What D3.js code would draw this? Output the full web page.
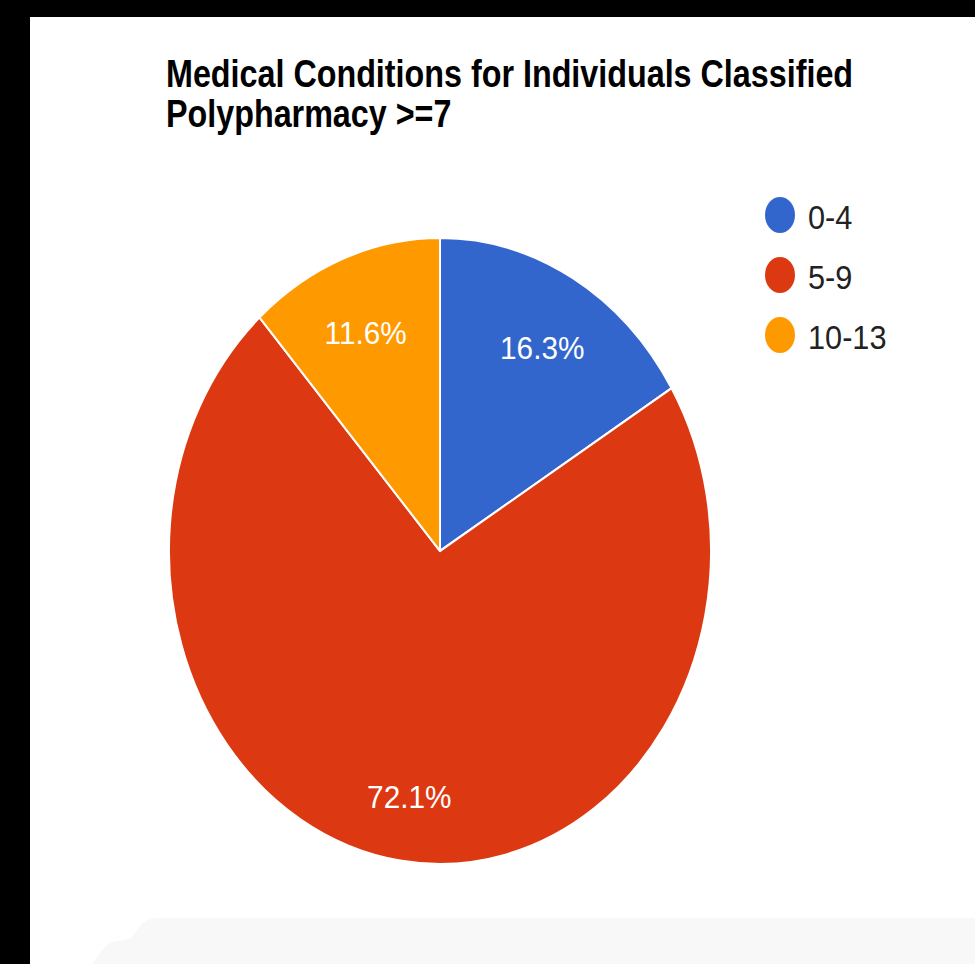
<!DOCTYPE html>
<html>
<head>
<meta charset="utf-8">
<script src="https://cdn.jsdelivr.net/npm/d3@7"></script>
<style>
  html, body { margin: 0; padding: 0; background: #000; }
  svg { display: block; }
</style>
</head>
<body>
<svg id="chart" width="975" height="964"></svg>
<script>
// ---- data ----
const categories = ["0-4", "5-9", "10-13"];
const values = [16.3, 72.1, 11.6];
const colors = ["#3366cc", "#dc3912", "#ff9900"];
const titleLines = ["Medical Conditions for Individuals Classified", "Polypharmacy >=7"];

// ---- layout ----
const svg = d3.select("#chart");
const W = 975, H = 964;
const sx = 0.93; // horizontal text compression seen in the picture

svg.append("rect").attr("width", W).attr("height", H).attr("fill", "#000");
svg.append("rect").attr("x", 30).attr("y", 17).attr("width", W - 30).attr("height", H - 17).attr("fill", "#fff");

// faint grey panel at the bottom
svg.append("path")
  .attr("d", "M975,918 L158,918 Q146,918 140,926 L132,937 Q128,940 118,941 Q108,942 104,948 L92,964 L975,964 Z")
  .attr("fill", "#f8f8f8");

// title
const title = svg.append("g").attr("font-family", "'Liberation Sans', Arial, sans-serif")
  .attr("font-weight", "bold").attr("font-size", 38).attr("fill", "#000");
titleLines.forEach((t, i) => {
  title.append("text")
    .attr("transform", `translate(166,${87 + i * 40}) scale(0.85,1)`)
    .text(t);
});

// pie
const cx = 440, cy = 551, ry = 313, rx = 271;
const pie = d3.pie().sort(null).value(d => d)(values);
const arc = d3.arc().innerRadius(0).outerRadius(ry);
const g = svg.append("g").attr("transform", `translate(${cx},${cy}) scale(${rx / ry},1)`);
g.selectAll("path").data(pie).join("path")
  .attr("d", arc)
  .attr("fill", (d, i) => colors[i])
  .attr("stroke", "#fff")
  .attr("stroke-width", 2.2)
  .attr("stroke-linejoin", "round");

// percentage labels
const labelArc = d3.arc().innerRadius(ry * 0.77).outerRadius(ry * 0.77);
svg.append("g").selectAll("text").data(pie).join("text")
  .attr("transform", d => {
    const [x, y] = labelArc.centroid(d);
    return `translate(${cx + x * rx / ry},${cy + y + 7}) scale(${sx},1)`;
  })
  .attr("text-anchor", "middle")
  .attr("dy", "0.36em")
  .attr("font-family", "'Liberation Sans', Arial, sans-serif")
  .attr("font-size", 32)
  .attr("fill", "#fff")
  .text(d => d.data.toFixed(1) + "%");

// legend
const legend = svg.append("g").selectAll("g").data(categories).join("g")
  .attr("transform", (d, i) => `translate(780,${215 + i * 60})`);
legend.append("ellipse").attr("rx", 15).attr("ry", 18).attr("fill", (d, i) => colors[i]);
legend.append("text")
  .attr("transform", `translate(28,14) scale(${sx},1)`)
  .attr("font-family", "'Liberation Sans', Arial, sans-serif")
  .attr("font-size", 33)
  .attr("fill", "#222")
  .text(d => d);
</script>
</body>
</html>
